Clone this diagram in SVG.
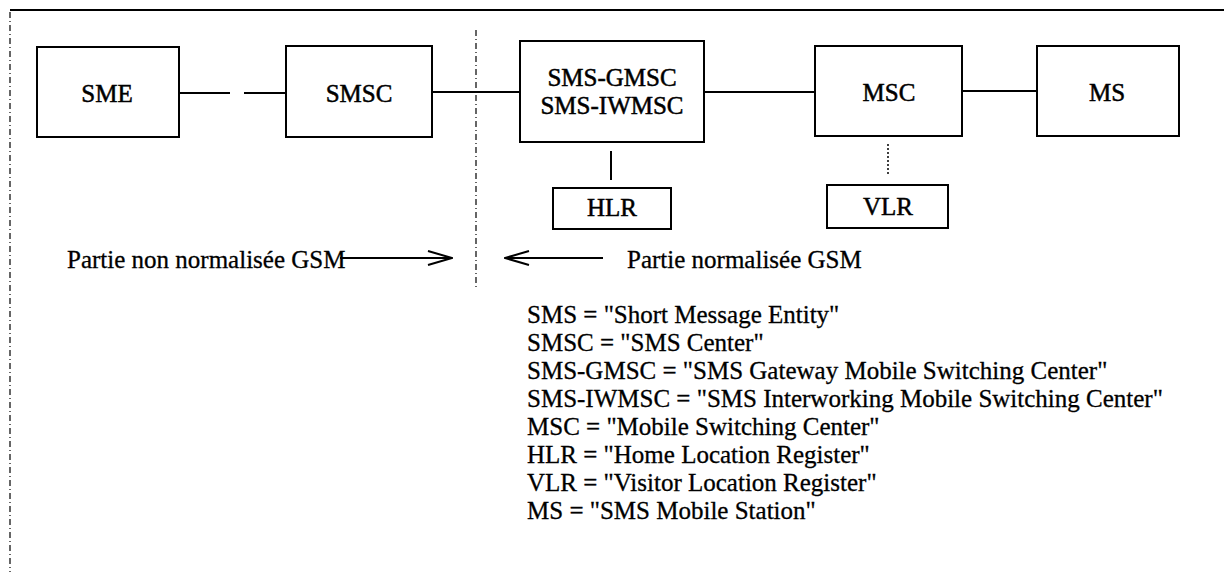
<svg xmlns="http://www.w3.org/2000/svg" width="1224" height="572" viewBox="0 0 1224 572">
<defs>
<style>
.box{fill:#fff;stroke:#000;stroke-width:2}
.lbl{font-family:"Liberation Serif","Times New Roman",serif;font-size:25px;fill:#000;stroke:#000;stroke-width:0.5;text-anchor:middle}
.txt{font-family:"Liberation Serif","Times New Roman",serif;font-size:25px;fill:#000;stroke:#000;stroke-width:0.3}
.ln{stroke:#000;stroke-width:2;fill:none}
.dash{stroke:#000;stroke-width:1.2;fill:none;stroke-dasharray:6 3 1 3}
.dot{stroke:#000;stroke-width:1.5;fill:none;stroke-dasharray:2 2}
</style>
<marker id="open" viewBox="0 0 26 16" refX="25" refY="8" markerWidth="26" markerHeight="16" markerUnits="userSpaceOnUse" orient="auto">
<path d="M1,1 L25,8 L1,15" fill="none" stroke="#000" stroke-width="2"/>
</marker>
</defs>
<rect width="1224" height="572" fill="#fff"/>
<g id="frame">
<line x1="10" y1="10" x2="1224" y2="10" class="ln"/>
<line x1="10" y1="12" x2="10" y2="572" class="dash"/>
<line x1="476" y1="30" x2="476" y2="290" class="dash"/>
</g>
<g id="connectors">
<line x1="179" y1="93" x2="230" y2="93" class="ln"/>
<line x1="244" y1="93" x2="286" y2="93" class="ln"/>
<line x1="432" y1="92" x2="520" y2="92" class="ln"/>
<line x1="704" y1="92" x2="815" y2="92" class="ln"/>
<line x1="962" y1="91" x2="1037" y2="91" class="ln"/>
<line x1="611" y1="151" x2="611" y2="180" class="ln"/>
<line x1="888" y1="144" x2="888" y2="174" class="dot"/>
<line x1="340" y1="258" x2="452" y2="258" class="ln" marker-end="url(#open)"/>
<line x1="603" y1="258" x2="505" y2="258" class="ln" marker-end="url(#open)"/>
</g>
<g id="SME">
<rect x="37" y="47" width="142" height="90" class="box"/>
<text x="107" y="102" class="lbl">SME</text>
</g>
<g id="SMSC">
<rect x="286" y="46" width="146" height="91" class="box"/>
<text x="359" y="102" class="lbl">SMSC</text>
</g>
<g id="SMS-GMSC">
<rect x="520" y="41" width="184" height="101" class="box"/>
<text x="612" y="86" class="lbl">SMS-GMSC</text>
<text x="612" y="114" class="lbl">SMS-IWMSC</text>
</g>
<g id="MSC">
<rect x="815" y="46" width="147" height="90" class="box"/>
<text x="889" y="101" class="lbl">MSC</text>
</g>
<g id="MS">
<rect x="1037" y="46" width="142" height="90" class="box"/>
<text x="1107" y="101" class="lbl">MS</text>
</g>
<g id="HLR">
<rect x="553" y="188" width="118" height="41" class="box"/>
<text x="612" y="216" class="lbl">HLR</text>
</g>
<g id="VLR">
<rect x="827" y="185" width="121" height="43" class="box"/>
<text x="888" y="215" class="lbl">VLR</text>
</g>
<g id="labels">
<text x="67" y="268" class="txt">Partie non normalisée GSM</text>
<text x="627" y="268" class="txt">Partie normalisée GSM</text>
</g>
<g id="legend" class="txt">
<text x="527" y="323">SMS = "Short Message Entity"</text>
<text x="527" y="351">SMSC = "SMS Center"</text>
<text x="527" y="379">SMS-GMSC = "SMS Gateway Mobile Switching Center"</text>
<text x="527" y="407">SMS-IWMSC = "SMS Interworking Mobile Switching Center"</text>
<text x="527" y="435">MSC = "Mobile Switching Center"</text>
<text x="527" y="463">HLR = "Home Location Register"</text>
<text x="527" y="491">VLR = "Visitor Location Register"</text>
<text x="527" y="519">MS = "SMS Mobile Station"</text>
</g>
</svg>
